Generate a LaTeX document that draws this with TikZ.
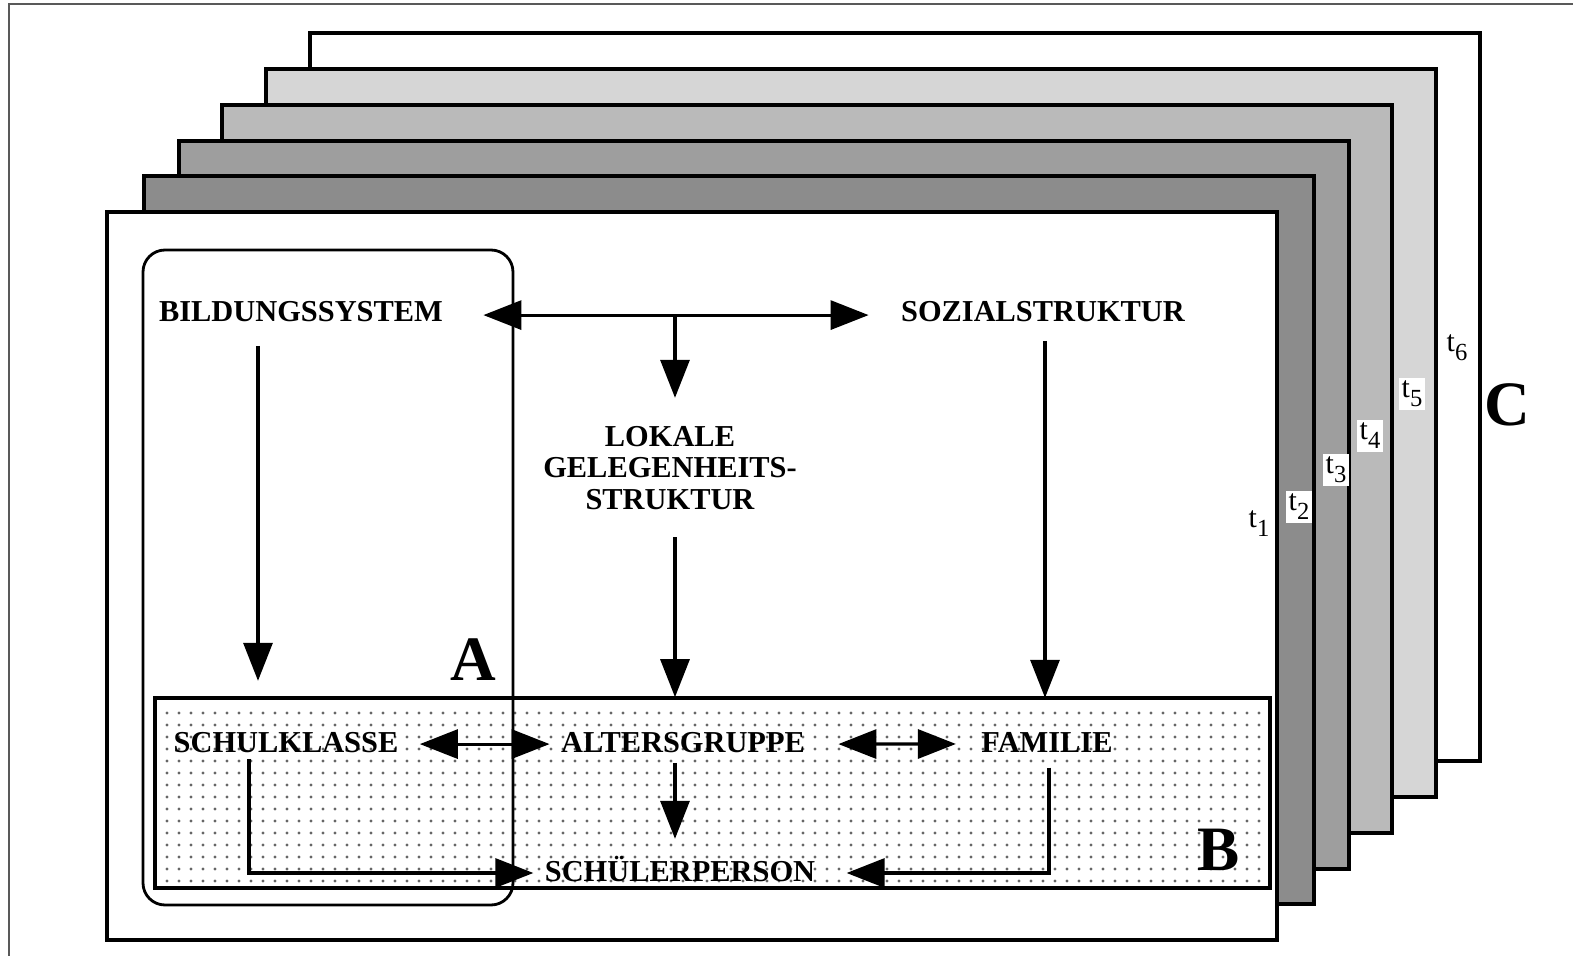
\documentclass[tikz,border=0pt]{standalone}
\usepackage{fontspec}
\setmainfont{Liberation Serif}
\usetikzlibrary{arrows.meta,calc}
\definecolor{sheetb}{gray}{0.55}
\definecolor{sheetc}{gray}{0.62}
\definecolor{sheetd}{gray}{0.73}
\definecolor{sheete}{gray}{0.84}
\definecolor{dotgray}{gray}{0.4}
\definecolor{framegray}{gray}{0.35}
\newcommand{\tsub}[1]{t\raisebox{-0.3em}{\fontsize{14}{14}\selectfont #1}}

\begin{document}
\begin{tikzpicture}
	[x=0.02cm,y=-0.02cm,
	sheet/.style={draw,line width=1.8pt},
	lbl/.style={font=\bfseries\fontsize{17.3}{17.9}\selectfont,inner sep=2pt,outer sep=0pt,anchor=base},
	big/.style={font=\bfseries\fontsize{36}{36}\selectfont,inner sep=0pt,anchor=base},
	tlbl/.style={font=\fontsize{17}{17}\selectfont,fill=white,inner sep=1.5pt},
	arr/.style={-{Triangle[length=0.76cm,width=0.58cm]},line width=1.8pt},
	dblarr/.style={{Triangle[length=0.76cm,width=0.58cm]}-{Triangle[length=0.76cm,width=0.58cm]},line width=1.8pt}]
	\useasboundingbox (0,0) rectangle (1573,956);
	\draw[framegray,line width=1.4pt] (9,956) -- (9,4) -- (1573,4);
	\foreach \x/\y/\c in {310/33/white,266/69/sheete,222/105/sheetd,179/141/sheetc,144/176/sheetb,107/212/white}
	{
		\draw[sheet,fill=\c] (\x,\y) rectangle ++(1170,728);
	}
	\foreach \n/\x/\y in {1/1259/524,2/1299/507,3/1336/470,4/1370/436,5/1412/394,6/1457/348}
	{
		\node[tlbl] (t\n) at (\x,\y) {\tsub{\n}};
	}
	\fill[dotgray] \foreach \i in {0,...,91}{\foreach \j in {0,...,14}{(167+12*\i,713+12*\j) circle (0.95pt)}};
	\draw[line width=1.9pt] (155,698) rectangle (1270,888);
	\draw[line width=1.6pt,rounded corners=0.44cm] (143,250) rectangle (513,905);
	\node[lbl] (bild) at (301,322) {BILDUNGSSYSTEM};
	\node[lbl] (sozial) at (1043,322) {SOZIALSTRUKTUR};
	\node[lbl,anchor=center,align=center] (lokal) at (670,468) {LOKALE\\GELEGENHEITS-\\STRUKTUR};
	\node[lbl] (schul) at (286,752) {SCHULKLASSE};
	\node[lbl] (alter) at (683,752) {ALTERSGRUPPE};
	\node[lbl] (fam) at (1047,752) {FAMILIE};
	\node[lbl] (person) at (680,881) {SCHÜLERPERSON};
	\node[big] (a) at (473,680) {A};
	\node[big] (b) at (1219,870) {B};
	\node[big] (c) at (1507,425) {C};
	\draw[dblarr] ($(bild.east)+(37,3)$) -- ($(sozial.west)+(-29,3)$);
	\draw[arr] ($(lokal.north)+(5,-108)$) -- ($(lokal.north)+(5,-25)$);
	\draw[arr] ($(bild.south)+(-43,20)$) -- ($(bild.south)+(-43,355)$);
	\draw[arr] ($(lokal.south)+(5,24)$) -- ($(lokal.south)+(5,184)$);
	\draw[arr] ($(sozial.south)+(2,15)$) -- ($(sozial.south)+(2,372)$);
	\draw[dblarr] ($(schul.east)+(18,2)$) -- ($(alter.west)+(-8,2)$);
	\draw[dblarr] ($(alter.east)+(30,2)$) -- ($(fam.west)+(-22,2)$);
	\draw[arr] ($(alter.south)+(-8,7)$) -- ($(alter.south)+(-8,83)$);
	\draw[arr] ($(schul.south)+(-37,3)$) |- ($(person.base west)+(-8,-8)$);
	\draw[arr] ($(fam.south)+(2,12)$) |- ($(person.base east)+(28,-8)$);
\end{tikzpicture}
\end{document}
